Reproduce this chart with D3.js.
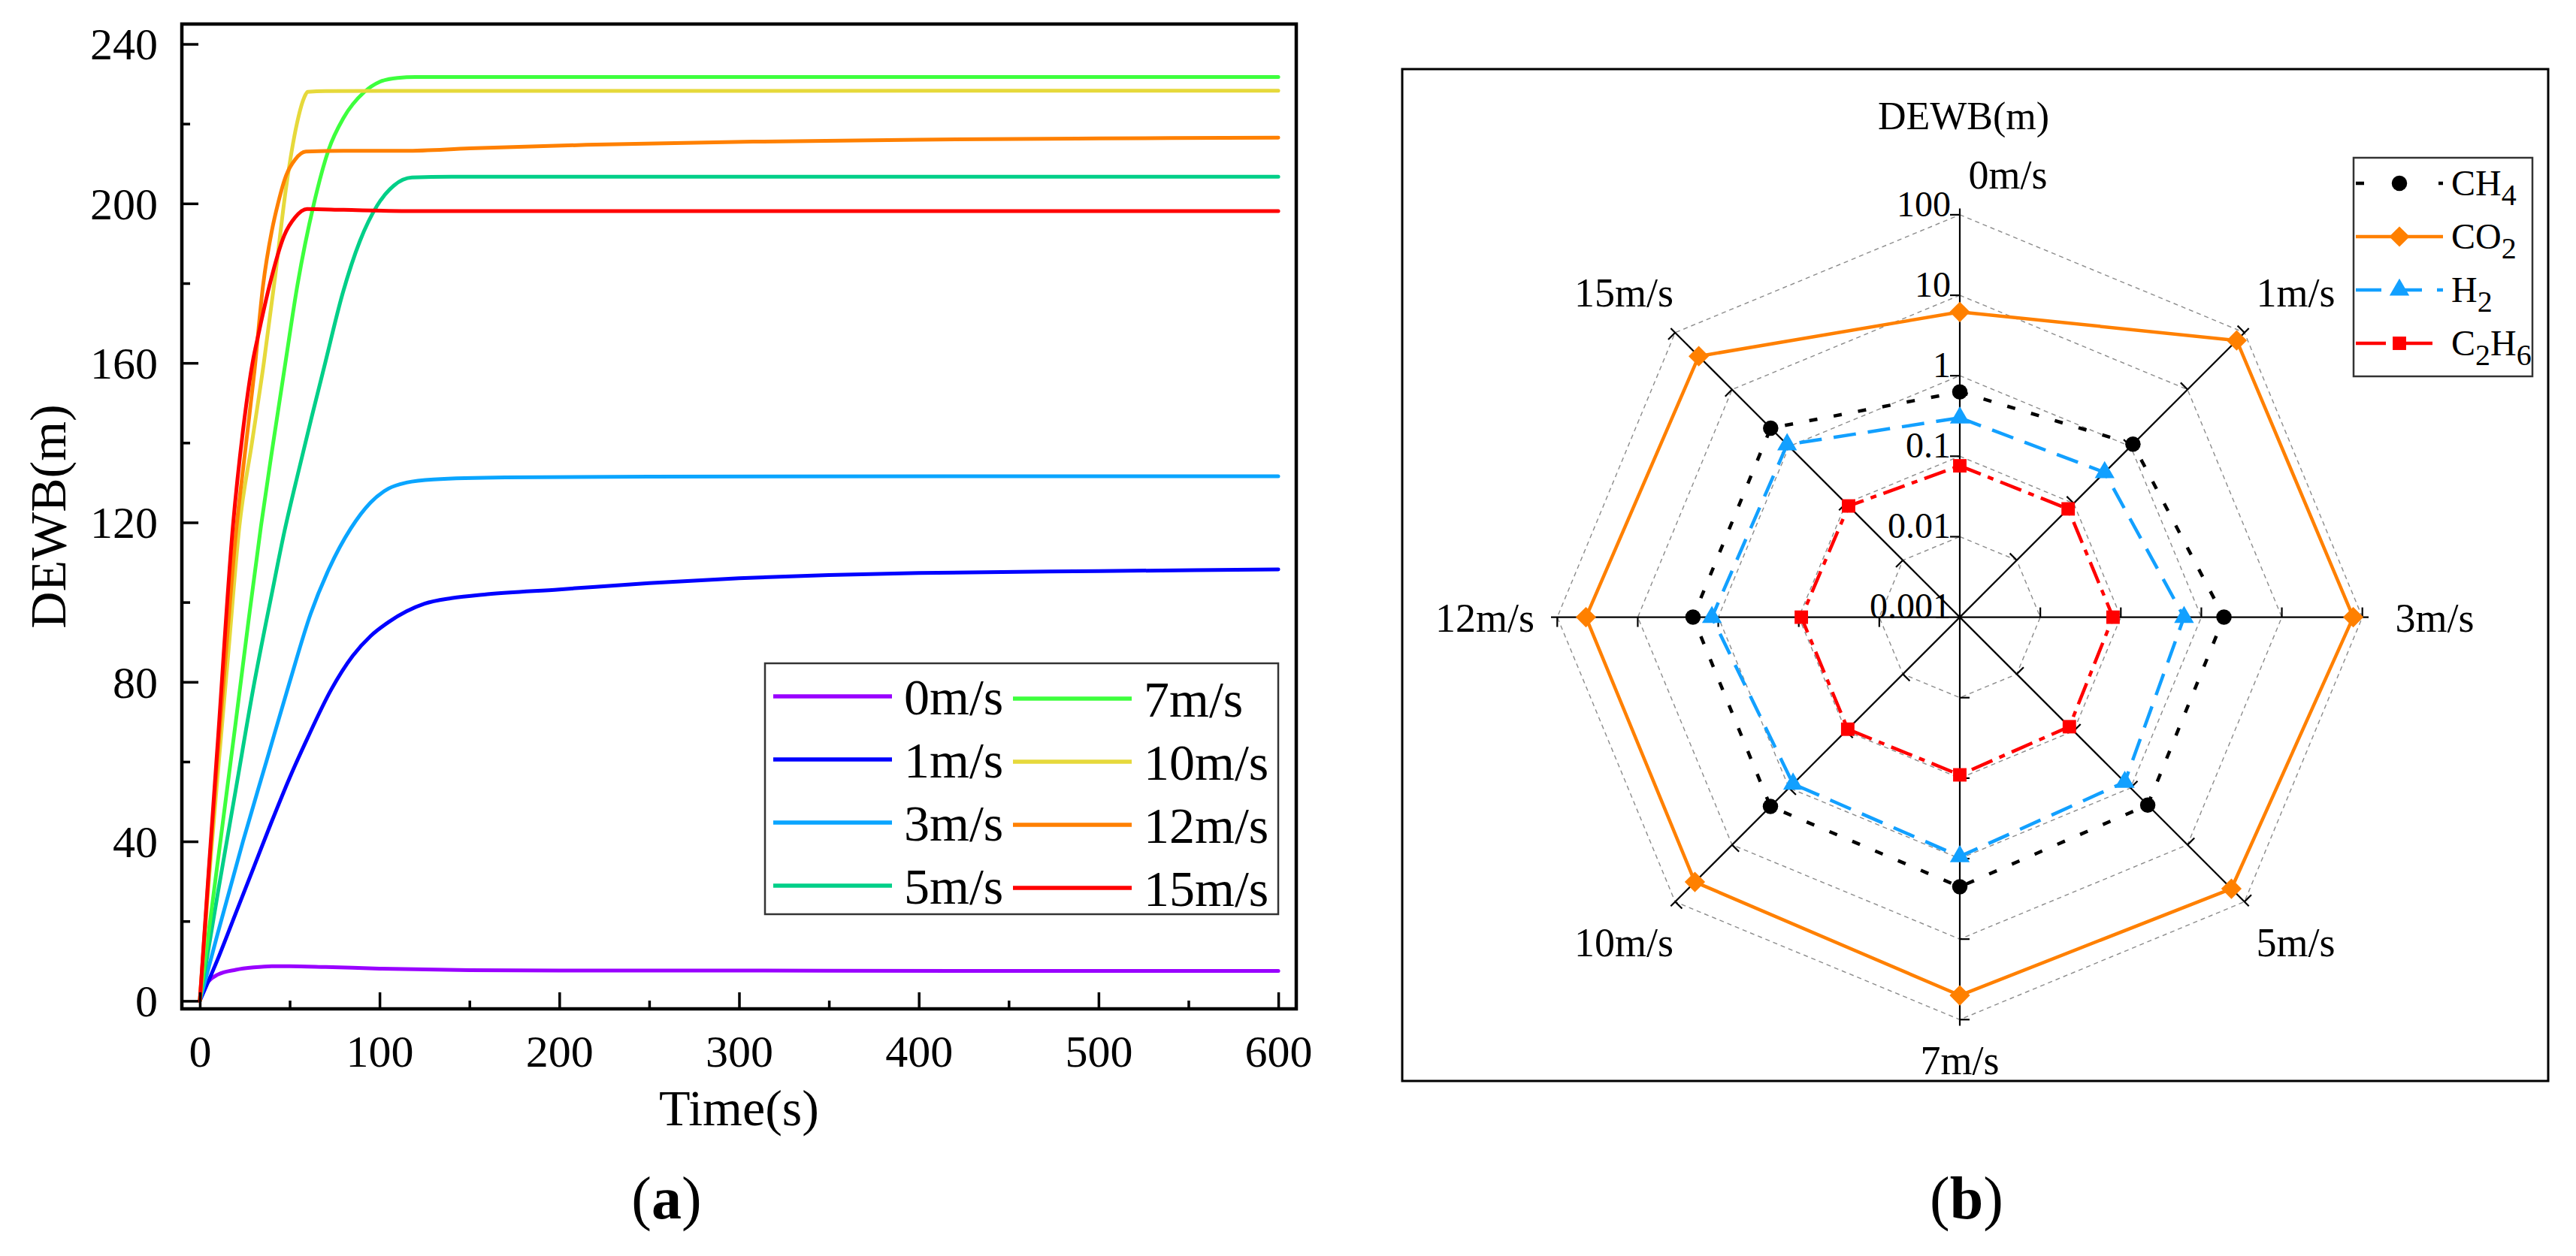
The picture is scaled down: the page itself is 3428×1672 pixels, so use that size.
<!DOCTYPE html>
<html>
<head>
<meta charset="utf-8">
<script src="https://cdn.jsdelivr.net/npm/d3@7"></script>
<style>
  html, body { margin: 0; padding: 0; background: #ffffff; }
  svg { display: block; }
  text { font-family: "Liberation Serif", "Times New Roman", serif; fill: #000; }
</style>
</head>
<body>
<svg id="chart" width="3428" height="1672"></svg>
<script>
// ---------------- DATA: panel (a) ----------------
const timeTicks = [0, 100, 200, 300, 400, 500, 600];
const timeMinorTicks = [50, 150, 250, 350, 450, 550];
const dewbTicks = [0, 40, 80, 120, 160, 200, 240];
const dewbMinorTicks = [20, 60, 100, 140, 180, 220];
const speedLabels = ["0m/s", "1m/s", "3m/s", "5m/s", "7m/s", "10m/s", "12m/s", "15m/s"];
const speedColors = ["#9900ff", "#0000ff", "#0aa5ff", "#00cf88", "#3dff3d", "#e6d93b", "#ff8000", "#ff0000"];

const wind0 = [[0,0],[2,3],[5,5],[10,6.6],[20,7.8],[30,8.4],[40,8.7],[50,8.7],[70,8.5],[100,8.1],[150,7.7],[200,7.6],[300,7.6],[450,7.5],[600,7.5]];
const wind1 = [[0,0],[10,10.5],[20,22],[30,33.5],[40,45],[50,56],[60,66],[73,78],[85,86.5],[95,91.5],[105,95],[115,97.7],[125,99.6],[140,101],[160,102],[200,103.2],[250,104.8],[300,106],[350,106.8],[400,107.3],[500,107.8],[600,108.2]];
const wind3 = [[0,0],[10,17],[24,40],[37,60],[50,80],[61.6,97],[72,108.5],[84,118.5],[95,125],[105,128.5],[115,130],[130,130.8],[170,131.3],[250,131.5],[600,131.6]];
const wind5 = [[0,0],[10,27],[20,53],[30,79],[40,102],[47.2,118],[55,133],[62,146],[69.2,159],[79.5,177.5],[89,190.5],[98.7,199.5],[108,204.5],[118,206.5],[140,206.7],[600,206.7]];
const wind7 = [[0,0],[10,35],[20,70],[27,95],[34,119],[40.5,139],[47.6,160],[54.3,179.5],[63.5,200],[71.6,213.4],[80,221.5],[91.6,228],[100,230.5],[110,231.5],[120,231.7],[600,231.7]];
const wind10 = [[0,0],[5,30],[10,57],[16,88],[22,119],[29,140],[35.6,160],[42,182],[48,204],[54,220],[58,226.5],[60,228],[70,228.2],[600,228.3]];
const wind12 = [[0,0],[5,32],[10,62],[15,90],[20,117],[25,137],[30.4,158],[35.2,179.5],[40,193],[43.5,200],[48,207],[53,211],[59,213],[80,213.2],[114,213.2],[150,213.8],[215,214.7],[309,215.5],[400,216],[500,216.3],[600,216.5]];
const wind15 = [[0,0],[5,33],[10,65],[18.4,119],[24,143],[29.3,160],[33,168],[38.8,179.5],[47,192],[53,196.5],[59.6,198.6],[80,198.4],[115,198.1],[600,198.1]];
const windSeries = [wind0, wind1, wind3, wind5, wind7, wind10, wind12, wind15];

// ---------------- DATA: panel (b) ----------------
const radarCategories = ["0m/s", "1m/s", "3m/s", "5m/s", "7m/s", "10m/s", "12m/s", "15m/s"];
const gasNames = ["CH4", "CO2", "H2", "C2H6"];
const ch4 = [0.63, 1.1, 1.91, 2.0, 2.24, 2.12, 2.06, 2.1];
const co2 = [6.2, 73, 77, 59, 50, 45, 44, 38.5];
const h2 = [0.30, 0.35, 0.61, 0.79, 0.94, 0.85, 1.2, 1.08];
const c2h6 = [0.076, 0.080, 0.080, 0.084, 0.091, 0.093, 0.093, 0.090];
const radarTicks = [0.001, 0.01, 0.1, 1, 10, 100];
const radarTickLabels = ["0.001", "0.01", "0.1", "1", "10", "100"];

// ---------------- DRAW ----------------
const svg = d3.select("#chart");
svg.append("rect").attr("width", 3428).attr("height", 1672).attr("fill", "#fff");

// ===== Panel (a) =====
const A = { left: 242, right: 1725, top: 32, bottom: 1343 };
const x = d3.scaleLinear().domain([-10, 610]).range([A.left, A.right]);
const y = d3.scaleLinear().domain([-2, 245]).range([A.bottom, A.top]);

const ga = svg.append("g");
ga.append("clipPath").attr("id", "clipA").append("rect")
  .attr("x", A.left).attr("y", A.top).attr("width", A.right - A.left).attr("height", A.bottom - A.top);

const line = d3.line().x(d => x(d[0])).y(d => y(d[1])).curve(d3.curveMonotoneX);
const curves = ga.append("g").attr("clip-path", "url(#clipA)");
windSeries.forEach((s, i) => {
  curves.append("path").attr("d", line(s)).attr("fill", "none")
    .attr("stroke", speedColors[i]).attr("stroke-width", 5)
    .attr("stroke-linejoin", "round").attr("stroke-linecap", "round");
});

// axes (ticks inward)
const fontTick = 60;
const xAxis = d3.axisBottom(x).tickValues(timeTicks).tickSize(-22).tickPadding(0).tickFormat(d3.format("d"));
const gx = ga.append("g").attr("transform", `translate(0,${A.bottom})`).call(xAxis);
gx.select(".domain").remove();
gx.selectAll(".tick line").attr("stroke", "#000").attr("stroke-width", 3.5);
gx.selectAll(".tick text").attr("font-size", fontTick).attr("y", 77).attr("dy", 0)
  .style("font-family", "Liberation Serif, Times New Roman, serif");
const gxm = ga.append("g").attr("transform", `translate(0,${A.bottom})`)
  .call(d3.axisBottom(x).tickValues(timeMinorTicks).tickSize(-11).tickFormat(""));
gxm.select(".domain").remove();
gxm.selectAll(".tick line").attr("stroke", "#000").attr("stroke-width", 3.5);

const yAxis = d3.axisLeft(y).tickValues(dewbTicks).tickSize(-22).tickPadding(32).tickFormat(d3.format("d"));
const gy = ga.append("g").attr("transform", `translate(${A.left},0)`).call(yAxis);
gy.select(".domain").remove();
gy.selectAll(".tick line").attr("stroke", "#000").attr("stroke-width", 3.5);
gy.selectAll(".tick text").attr("font-size", fontTick).attr("dy", "0.34em")
  .style("font-family", "Liberation Serif, Times New Roman, serif");
const gym = ga.append("g").attr("transform", `translate(${A.left},0)`)
  .call(d3.axisLeft(y).tickValues(dewbMinorTicks).tickSize(-11).tickFormat(""));
gym.select(".domain").remove();
gym.selectAll(".tick line").attr("stroke", "#000").attr("stroke-width", 3.5);

ga.append("rect").attr("x", A.left).attr("y", A.top)
  .attr("width", A.right - A.left).attr("height", A.bottom - A.top)
  .attr("fill", "none").attr("stroke", "#000").attr("stroke-width", 4.5);

ga.append("text").attr("x", (A.left + A.right) / 2).attr("y", 1498)
  .attr("text-anchor", "middle").attr("font-size", 68).text("Time(s)");
ga.append("text").attr("transform", `translate(87,${(A.top + A.bottom) / 2}) rotate(-90)`)
  .attr("text-anchor", "middle").attr("font-size", 68).text("DEWB(m)");

// legend (a)
const legA = ga.append("g");
legA.append("rect").attr("x", 1018).attr("y", 883).attr("width", 683).attr("height", 334)
  .attr("fill", "#fff").attr("stroke", "#333").attr("stroke-width", 2.5);
speedLabels.forEach((lab, i) => {
  const col = Math.floor(i / 4), row = i % 4;
  const ly = 927 + row * 84 + col * 3;
  const lx0 = col === 0 ? 1029 : 1348;
  legA.append("line").attr("x1", lx0).attr("x2", lx0 + 158).attr("y1", ly).attr("y2", ly)
    .attr("stroke", speedColors[i]).attr("stroke-width", 5.5);
  legA.append("text").attr("x", lx0 + 174).attr("y", ly).attr("dy", "0.35em")
    .attr("font-size", 68).text(lab);
});

// (a) label
const la = svg.append("text").attr("x", 887).attr("y", 1622).attr("text-anchor", "middle").attr("font-size", 80);
la.append("tspan").text("(");
la.append("tspan").attr("font-weight", "bold").text("a");
la.append("tspan").text(")");

// ===== Panel (b) =====
svg.append("rect").attr("x", 1866).attr("y", 92).attr("width", 1525).attr("height", 1347)
  .attr("fill", "none").attr("stroke", "#000").attr("stroke-width", 3);

const cx = 2608, cy = 821.6, R = 535.7;
const gb = svg.append("g").attr("transform", `translate(${cx},${cy})`);
const r = d3.scaleLog().domain([0.001, 100]).range([0, R]);
const angle = d3.scaleLinear().domain([0, radarCategories.length]).range([0, 2 * Math.PI]);
const px = (i, rad) => rad * Math.sin(angle(i));
const py = (i, rad) => -rad * Math.cos(angle(i));

// dashed grid octagons
radarTicks.slice(1).forEach(t => {
  const pts = radarCategories.map((c, i) => [px(i, r(t)), py(i, r(t))]);
  gb.append("path").attr("d", d3.line().curve(d3.curveLinearClosed)(pts))
    .attr("fill", "none").attr("stroke", "#8c8c8c").attr("stroke-width", 1.4)
    .attr("stroke-dasharray", "6,5");
});
// spokes
radarCategories.forEach((c, i) => {
  gb.append("line").attr("x1", 0).attr("y1", 0).attr("x2", px(i, 544)).attr("y2", py(i, 544))
    .attr("stroke", "#000").attr("stroke-width", 2.2);
  const a = angle(i);
  const nx = -Math.cos(a), ny = -Math.sin(a);
  radarTicks.slice(1).forEach(t => {
    const bx = px(i, r(t)), by = py(i, r(t));
    gb.append("line").attr("x1", bx).attr("y1", by).attr("x2", bx + nx * 13).attr("y2", by + ny * 13)
      .attr("stroke", "#000").attr("stroke-width", 2.2);
  });
});
// radial tick labels along first axis
radarTicks.forEach((t, k) => {
  gb.append("text").attr("x", -12).attr("y", -r(t) - 15).attr("dy", "0.35em")
    .attr("text-anchor", "end").attr("font-size", 48).text(radarTickLabels[k]);
});
// category labels
radarCategories.forEach((c, i) => {
  const a = angle(i);
  const diag = Math.abs(Math.sin(a)) > 0.1 && Math.abs(Math.cos(a)) > 0.1;
  let lx = 632 * Math.sin(a);
  let ly = -(diag ? 612 : 590) * Math.cos(a);
  if (i === 0) lx += 64;
  gb.append("text").attr("x", lx).attr("y", ly).attr("dy", "0.35em")
    .attr("text-anchor", "middle").attr("font-size", 54).text(c);
});
// title
svg.append("text").attr("x", 2613).attr("y", 172).attr("text-anchor", "middle")
  .attr("font-size", 52).text("DEWB(m)");

// series
const gasData = [ch4, co2, h2, c2h6];
const gasColors = ["#000000", "#ff8000", "#12a0ff", "#ff0000"];
const gasDash = ["11,22", null, "30,16", "30,10,8,10"];
const gasSymbols = [d3.symbolCircle, d3.symbolSquare, d3.symbolTriangle, d3.symbolSquare];
const gasSymSize = [330, 370, 300, 320];
const gasSymRot = [0, 45, 0, 0];
const radial = d3.lineRadial().angle((d, i) => angle(i)).radius(d => r(d)).curve(d3.curveLinearClosed);
gasData.forEach((vals, g) => {
  gb.append("path").attr("d", radial(vals)).attr("fill", "none")
    .attr("stroke", gasColors[g]).attr("stroke-width", 4.5)
    .attr("stroke-dasharray", gasDash[g]).attr("stroke-linejoin", "round");
});
gasData.forEach((vals, g) => {
  vals.forEach((v, i) => {
    gb.append("path").attr("d", d3.symbol().type(gasSymbols[g]).size(gasSymSize[g])())
      .attr("transform", `translate(${px(i, r(v))},${py(i, r(v))}) rotate(${gasSymRot[g]})`)
      .attr("fill", gasColors[g]);
  });
});

// legend (b)
const legB = svg.append("g");
legB.append("rect").attr("x", 3132).attr("y", 210).attr("width", 238).attr("height", 291)
  .attr("fill", "#fff").attr("stroke", "#333").attr("stroke-width", 2.5);
const gasLabelParts = [[["CH", 0], ["4", 1]], [["CO", 0], ["2", 1]], [["H", 0], ["2", 1]], [["C", 0], ["2", 1], ["H", 0], ["6", 1]]];
gasNames.forEach((name, g) => {
  const ly = 244 + g * 71;
  legB.append("line").attr("x1", 3135).attr("x2", 3251).attr("y1", ly).attr("y2", ly)
    .attr("stroke", gasColors[g]).attr("stroke-width", 4.5)
    .attr("stroke-dasharray", g === 0 ? "11,44" : (g === 2 ? "34,20" : (g === 3 ? "40,22" : null)));
  legB.append("path").attr("d", d3.symbol().type(gasSymbols[g]).size(gasSymSize[g])())
    .attr("transform", `translate(3193,${ly}) rotate(${gasSymRot[g]})`).attr("fill", gasColors[g]);
  const t = legB.append("text").attr("x", 3262).attr("y", ly + 16).attr("font-size", 48);
  let prevSub = false;
  gasLabelParts[g].forEach(([s, sub]) => {
    const ts = t.append("tspan").text(s);
    if (sub) { ts.attr("font-size", 40).attr("dy", 13); }
    else if (prevSub) { ts.attr("dy", -13); }
    prevSub = !!sub;
  });
});

// (b) label
const lb = svg.append("text").attr("x", 2617).attr("y", 1622).attr("text-anchor", "middle").attr("font-size", 80);
lb.append("tspan").text("(");
lb.append("tspan").attr("font-weight", "bold").text("b");
lb.append("tspan").text(")");
</script>
</body>
</html>
